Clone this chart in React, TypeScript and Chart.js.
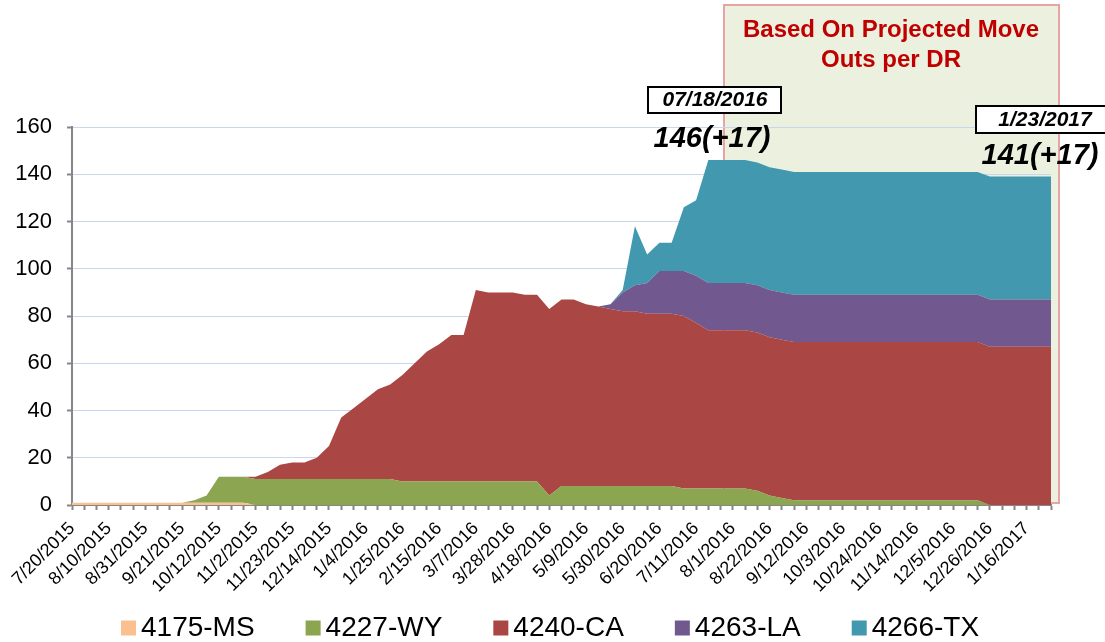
import React, { useEffect, useRef } from 'react';
import { Chart, registerables } from 'chart.js';

Chart.register(...registerables);

const dates = [
  '7/20/2015', '7/27/2015', '8/3/2015', '8/10/2015', '8/17/2015', '8/24/2015', '8/31/2015', '9/7/2015', '9/14/2015', '9/21/2015',
  '9/28/2015', '10/5/2015', '10/12/2015', '10/19/2015', '10/26/2015', '11/2/2015', '11/9/2015', '11/16/2015', '11/23/2015', '11/30/2015',
  '12/7/2015', '12/14/2015', '12/21/2015', '12/28/2015', '1/4/2016', '1/11/2016', '1/18/2016', '1/25/2016', '2/1/2016', '2/8/2016',
  '2/15/2016', '2/22/2016', '2/29/2016', '3/7/2016', '3/14/2016', '3/21/2016', '3/28/2016', '4/4/2016', '4/11/2016', '4/18/2016',
  '4/25/2016', '5/2/2016', '5/9/2016', '5/16/2016', '5/23/2016', '5/30/2016', '6/6/2016', '6/13/2016', '6/20/2016', '6/27/2016',
  '7/4/2016', '7/11/2016', '7/18/2016', '7/25/2016', '8/1/2016', '8/8/2016', '8/15/2016', '8/22/2016', '8/29/2016', '9/5/2016',
  '9/12/2016', '9/19/2016', '9/26/2016', '10/3/2016', '10/10/2016', '10/17/2016', '10/24/2016', '10/31/2016', '11/7/2016', '11/14/2016',
  '11/21/2016', '11/28/2016', '12/5/2016', '12/12/2016', '12/19/2016', '12/26/2016', '1/2/2017', '1/9/2017', '1/16/2017', '1/23/2017',
  '1/30/2017',
];

const tickLabels = [
  '7/20/2015', '8/10/2015', '8/31/2015', '9/21/2015', '10/12/2015', '11/2/2015', '11/23/2015', '12/14/2015', '1/4/2016',
  '1/25/2016', '2/15/2016', '3/7/2016', '3/28/2016', '4/18/2016', '5/9/2016', '5/30/2016', '6/20/2016', '7/11/2016',
  '8/1/2016', '8/22/2016', '9/12/2016', '10/3/2016', '10/24/2016', '11/14/2016', '12/5/2016', '12/26/2016', '1/16/2017',
];

const ms4175 = [
  1, 1, 1, 1, 1, 1, 1, 1, 1, 1,
  1, 1, 1, 1, 1, 0, 0, 0, 0, 0,
  0, 0, 0, 0, 0, 0, 0, 0, 0, 0,
  0, 0, 0, 0, 0, 0, 0, 0, 0, 0,
  0, 0, 0, 0, 0, 0, 0, 0, 0, 0,
  0, 0, 0, 0, 0, 0, 0, 0, 0, 0,
  0, 0, 0, 0, 0, 0, 0, 0, 0, 0,
  0, 0, 0, 0, 0, 0, 0, 0, 0, 0,
  0,
];

const wy4227 = [
  0, 0, 0, 0, 0, 0, 0, 0, 0, 0,
  1, 3, 11, 11, 11, 11, 11, 11, 11, 11,
  11, 11, 11, 11, 11, 11, 11, 10, 10, 10,
  10, 10, 10, 10, 10, 10, 10, 10, 10, 4,
  8, 8, 8, 8, 8, 8, 8, 8, 8, 8,
  7, 7, 7, 7, 7, 7, 6, 4, 3, 2,
  2, 2, 2, 2, 2, 2, 2, 2, 2, 2,
  2, 2, 2, 2, 2, 0, 0, 0, 0, 0,
  0,
];

const ca4240 = [
  0, 0, 0, 0, 0, 0, 0, 0, 0, 0,
  0, 0, 0, 0, 0, 1, 3, 6, 7, 7,
  9, 14, 26, 30, 34, 38, 40, 45, 50, 55,
  58, 62, 62, 81, 80, 80, 80, 79, 79, 79,
  79, 79, 77, 76, 75, 74, 74, 73, 73, 73,
  73, 70, 67, 67, 67, 67, 67, 67, 67, 67,
  67, 67, 67, 67, 67, 67, 67, 67, 67, 67,
  67, 67, 67, 67, 67, 67, 67, 67, 67, 67,
  67,
];

const la4263 = [
  0, 0, 0, 0, 0, 0, 0, 0, 0, 0,
  0, 0, 0, 0, 0, 0, 0, 0, 0, 0,
  0, 0, 0, 0, 0, 0, 0, 0, 0, 0,
  0, 0, 0, 0, 0, 0, 0, 0, 0, 0,
  0, 0, 0, 0, 2, 8, 11, 13, 18, 18,
  19, 20, 20, 20, 20, 20, 20, 20, 20, 20,
  20, 20, 20, 20, 20, 20, 20, 20, 20, 20,
  20, 20, 20, 20, 20, 20, 20, 20, 20, 20,
  20,
];

const tx4266 = [
  0, 0, 0, 0, 0, 0, 0, 0, 0, 0,
  0, 0, 0, 0, 0, 0, 0, 0, 0, 0,
  0, 0, 0, 0, 0, 0, 0, 0, 0, 0,
  0, 0, 0, 0, 0, 0, 0, 0, 0, 0,
  0, 0, 0, 0, 0, 1, 25, 12, 12, 12,
  27, 32, 52, 52, 52, 52, 52, 52, 52, 52,
  52, 52, 52, 52, 52, 52, 52, 52, 52, 52,
  52, 52, 52, 52, 52, 52, 52, 52, 52, 52,
  52,
];

const seriesNames = ['4175-MS', '4227-WY', '4240-CA', '4263-LA', '4266-TX'];
const seriesColors = ['#FAC090', '#8BA550', '#AA4643', '#71588F', '#4198AF'];

const projectionTitle = ['Based On Projected Move', 'Outs per DR'];
const noteDate1 = '07/18/2016';
const noteValue1 = '146(+17)';
const noteDate2 = '1/23/2017';
const noteValue2 = '141(+17)';

const FONT = "'Liberation Sans', Arial, Helvetica, sans-serif";

export default function App() {
  const ref = useRef<HTMLCanvasElement>(null);

  useEffect(() => {
    const canvas = ref.current;
    if (!canvas) return;

    const shadePlugin = {
      id: 'shade',
      beforeDraw(chart: any) {
        const ctx = chart.ctx;
        ctx.save();
        ctx.fillStyle = '#EBF1DE';
        ctx.fillRect(724, 5, 335, 498);
        ctx.strokeStyle = '#E6A4A4';
        ctx.lineWidth = 2;
        ctx.strokeRect(724, 5, 335, 498);
        ctx.fillStyle = '#C00000';
        ctx.font = `bold 24px ${FONT}`;
        ctx.textAlign = 'center';
        ctx.textBaseline = 'middle';
        ctx.fillText(projectionTitle[0], 891, 30);
        ctx.fillText(projectionTitle[1], 891, 60);
        ctx.restore();
      },
    };

    const notesPlugin = {
      id: 'notes',
      afterDraw(chart: any) {
        const ctx = chart.ctx;
        ctx.save();
        ctx.fillStyle = '#FFFFFF';
        ctx.strokeStyle = '#000000';
        ctx.lineWidth = 2;
        ctx.fillRect(648, 87, 133, 26);
        ctx.strokeRect(648, 87, 133, 26);
        ctx.fillRect(976, 106, 140, 27);
        ctx.strokeRect(976, 106, 140, 27);
        ctx.fillStyle = '#000000';
        ctx.textAlign = 'center';
        ctx.textBaseline = 'middle';
        ctx.font = `italic bold 21px ${FONT}`;
        ctx.fillText(noteDate1, 715, 100);
        ctx.fillText(noteDate2, 1045, 120);
        ctx.font = `italic bold 29px ${FONT}`;
        ctx.fillText(noteValue1, 712, 139);
        ctx.fillText(noteValue2, 1040, 156);
        ctx.restore();
      },
    };

    // Legend drawn from the dataset names/colours
    const legendPlugin = {
      id: 'customLegend',
      afterDraw(chart: any) {
        const ctx = chart.ctx;
        ctx.save();
        ctx.font = `28px ${FONT}`;
        ctx.textAlign = 'left';
        ctx.textBaseline = 'middle';
        let x = 121;
        const cy = 628;
        chart.data.datasets.forEach((ds: any) => {
          ctx.fillStyle = ds.backgroundColor;
          ctx.fillRect(x, cy - 7.5, 15, 15);
          ctx.fillStyle = '#000';
          ctx.fillText(ds.label, x + 20, cy);
          x += 20 + ctx.measureText(ds.label).width + 51;
        });
        ctx.restore();
      },
    };

    const seriesData = [ms4175, wy4227, ca4240, la4263, tx4266];

    const chart = new Chart(canvas, {
      type: 'line',
      data: {
        labels: dates,
        datasets: seriesNames.map((name, i) => ({
          label: name,
          data: seriesData[i],
          backgroundColor: seriesColors[i],
          borderColor: seriesColors[i],
          borderWidth: 0,
          pointRadius: 0,
          pointHoverRadius: 0,
          tension: 0,
          fill: i === 0 ? 'origin' : '-1',
        })),
      },
      options: {
        responsive: false,
        animation: false,
        devicePixelRatio: 1,
        layout: { padding: { top: 127, right: 54, bottom: 37, left: 0 } },
        plugins: {
          tooltip: { enabled: false },
          legend: { display: false },
        },
        scales: {
          x: {
            type: 'category',
            offset: false,
            afterFit: (s: any) => { s.height = 100; },
            grid: {
              drawOnChartArea: false,
              drawTicks: true,
              tickLength: 5,
              tickColor: '#868686',
              tickWidth: 2,
            },
            border: { color: '#868686', width: 2 },
            ticks: {
              autoSkip: false,
              maxRotation: 45,
              minRotation: 45,
              padding: 8,
              color: '#000',
              font: { family: FONT, size: 18 },
              callback: (_v: any, i: number) => (tickLabels.includes(dates[i]) ? dates[i] : ''),
            },
          },
          y: {
            stacked: true,
            min: 0,
            max: 160,
            afterFit: (s: any) => { s.width = 72; },
            grid: {
              color: '#C9D7EE',
              lineWidth: 1,
              drawTicks: true,
              tickLength: 5,
              tickColor: '#868686',
              tickWidth: 2,
            },
            border: { color: '#868686', width: 2 },
            ticks: {
              stepSize: 20,
              padding: 15,
              color: '#000',
              font: { family: FONT, size: 22 },
            },
          },
        },
      },
      plugins: [shadePlugin, notesPlugin, legendPlugin],
    } as any);

    return () => chart.destroy();
  }, []);

  return (
    <div style={{ position: 'fixed', left: 0, top: 0, width: 1105, height: 642, background: '#fff', overflow: 'hidden' }}>
      <canvas ref={ref} width={1105} height={642} style={{ display: 'block', width: 1105, height: 642 }} />
    </div>
  );
}
